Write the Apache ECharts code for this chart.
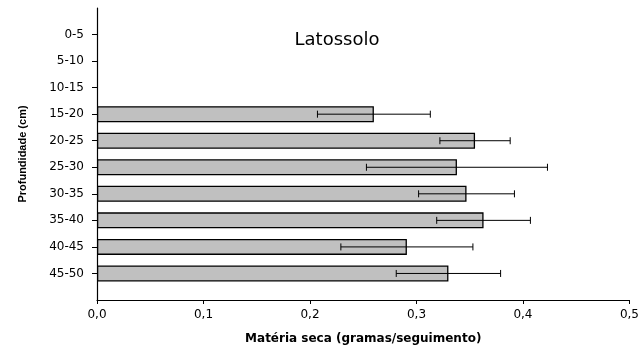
<!DOCTYPE html>
<html>
<head>
<meta charset="utf-8">
<script src="https://cdn.jsdelivr.net/npm/echarts@6/dist/echarts.min.js"></script>
<style>
  html, body { margin: 0; padding: 0; background: #fff; }
  #chart { width: 642px; height: 353px; }
</style>
</head>
<body>
<div id="chart"></div>
<script>
// Depth classes (cm), top to bottom
const depths = ['0-5', '5-10', '10-15', '15-20', '20-25', '25-30', '30-35', '35-40', '40-45', '45-50'];
// Mean dry matter per depth (g/segment); no roots sampled in the first three layers
const means = [null, null, null, 0.260, 0.355, 0.338, 0.347, 0.363, 0.291, 0.330];
// Half-width of the error bar for each depth
const errors = [null, null, null, 0.053, 0.033, 0.085, 0.045, 0.044, 0.062, 0.049];
// X axis tick labels use a decimal comma
const xTicks = [0, 0.1, 0.2, 0.3, 0.4, 0.5];

// Axis categories padded with an empty slot at each end
const axisCats = [''].concat(depths, ['']);

const barData = [];
const errData = [];
depths.forEach((d, i) => {
  if (means[i] == null) return;
  barData.push([means[i], d]);
  errData.push([means[i] - errors[i], d, means[i] + errors[i]]);
});

const chart = echarts.init(document.getElementById('chart'), null, { renderer: 'canvas' });

chart.setOption({
  animation: false,
  backgroundColor: '#fff',
  title: {
    text: 'Latossolo',
    left: 332,
    top: 26,
    textAlign: 'center',
    textStyle: { fontFamily: 'DejaVu Sans', fontSize: 18, fontWeight: 'normal', color: '#000' }
  },
  grid: { left: 97, right: 12, top: 8, bottom: 53, containLabel: false },
  xAxis: {
    type: 'value',
    min: xTicks[0],
    max: xTicks[xTicks.length - 1],
    interval: 0.1,
    name: 'Matéria seca (gramas/seguimento)',
    nameLocation: 'middle',
    nameGap: 33,
    nameTextStyle: { fontFamily: 'DejaVu Sans', fontSize: 12, fontWeight: 'bold', color: '#000' },
    axisLine: { show: true, lineStyle: { color: '#000', width: 1.2 } },
    axisTick: { show: true, length: 4, lineStyle: { color: '#000' } },
    splitLine: { show: false },
    axisLabel: {
      margin: 9,
      fontFamily: 'DejaVu Sans', fontSize: 12, color: '#000',
      formatter: v => v.toFixed(1).replace('.', ',')
    }
  },
  yAxis: {
    type: 'category',
    data: axisCats,
    inverse: true,
    boundaryGap: false,
    name: 'Profundidade (cm)',
    nameLocation: 'middle',
    nameGap: 69,
    nameTextStyle: { fontFamily: 'Liberation Sans', fontSize: 11, fontWeight: 'bold', color: '#000' },
    axisLine: { show: true, lineStyle: { color: '#000', width: 1.2 } },
    axisTick: {
      show: true, length: 5, lineStyle: { color: '#000' },
      interval: (idx, val) => val !== ''
    },
    axisLabel: {
      margin: 13, interval: 0,
      fontFamily: 'DejaVu Sans', fontSize: 12, color: '#000'
    },
    splitLine: { show: false }
  },
  series: [
    {
      type: 'bar',
      data: barData,
      encode: { x: 0, y: 1 },
      barWidth: 16,
      itemStyle: { color: '#c0c0c0', borderColor: '#000', borderWidth: 1.3 },
      z: 2
    },
    {
      type: 'custom',
      data: errData,
      encode: { x: [0, 2], y: 1 },
      z: 3,
      renderItem: function (params, api) {
        const yi = api.value(1);
        const lo = api.coord([api.value(0), yi]);
        const hi = api.coord([api.value(2), yi]);
        const h = 3.5;
        const st = { stroke: '#000', lineWidth: 1 };
        return {
          type: 'group',
          children: [
            { type: 'line', shape: { x1: lo[0], y1: lo[1], x2: hi[0], y2: hi[1] }, style: st },
            { type: 'line', shape: { x1: lo[0], y1: lo[1] - h, x2: lo[0], y2: lo[1] + h }, style: st },
            { type: 'line', shape: { x1: hi[0], y1: hi[1] - h, x2: hi[0], y2: hi[1] + h }, style: st }
          ]
        };
      }
    }
  ]
});
</script>
</body>
</html>
